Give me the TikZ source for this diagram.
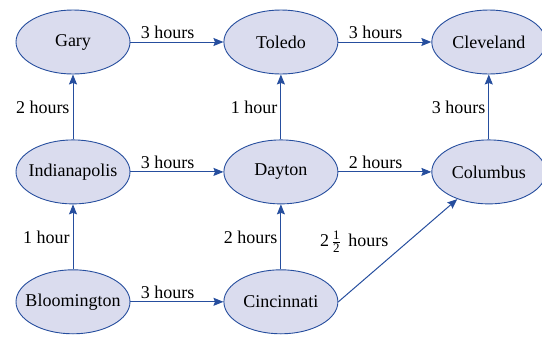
\documentclass[tikz,border=0pt]{standalone}
\usepackage{fontspec}
\setmainfont{Liberation Serif}
\usepackage{xcolor}
\usetikzlibrary{shapes.geometric,arrows.meta,positioning}

\definecolor{cityfill}{RGB}{218,220,238}
\definecolor{cityline}{RGB}{38,78,158}
\newcommand{\halfnum}[1]{\mbox{\fontsize{13}{13}\selectfont #1}}

\begin{document}
\begin{tikzpicture}[
  node distance=65pt and 93pt, >={Stealth[length=10pt,width=8pt,inset=1.5pt]},
  city/.style={draw=cityline, fill=cityfill, ellipse, line width=0.9pt, inner xsep=-14pt, inner ysep=0pt,
               minimum width=114pt, minimum height=64pt, font=\rmfamily\fontsize{18}{21}\selectfont},
  road/.style={->, draw=cityline, line width=1pt},
  hrs/.style={font=\rmfamily\fontsize{18}{21}\selectfont, inner sep=3pt},
]
\useasboundingbox (0,0) rectangle (542pt,-341pt);
% top row
\node[city] (gary) at (73pt,-42pt) {Gary};
\node[city, right=of gary] (toledo) {Toledo};
\node[city, right=of toledo] (cleveland) {Cleveland};
% middle row
\node[city, below=of gary] (indy) {Indianapolis};
\node[city, below=of toledo] (dayton) {Dayton};
\node[city, below=of cleveland] (columbus) {Columbus};
% bottom row
\node[city, below=of indy] (bloom) {Bloomington};
\node[city, below=of dayton] (cinci) {Cincinnati};

\draw[road] (gary) -- node[hrs, above, pos=0.4]{3 hours} (toledo);
\draw[road] (toledo) -- node[hrs, above, pos=0.4]{3 hours} (cleveland);
\draw[road] (indy) -- node[hrs, above, pos=0.4]{3 hours} (dayton);
\draw[road] (dayton) -- node[hrs, above, pos=0.4]{2 hours} (columbus);
\draw[road] (bloom) -- node[hrs, above, pos=0.4]{3 hours} (cinci);
\draw[road] (indy) -- node[hrs, left]{2 hours} (gary);
\draw[road] (dayton) -- node[hrs, left]{1 hour} (toledo);
\draw[road] (columbus) -- node[hrs, left]{3 hours} (cleveland);
\draw[road] (bloom) -- node[hrs, left]{1 hour} (indy);
\draw[road] (cinci) -- node[hrs, left]{2 hours} (dayton);
\draw[road] (cinci.east) -- node[hrs, pos=0.45, above left=0pt]{2\,$\frac{\halfnum{1}}{\halfnum{2}}$\, hours} (columbus);
\end{tikzpicture}
\end{document}
